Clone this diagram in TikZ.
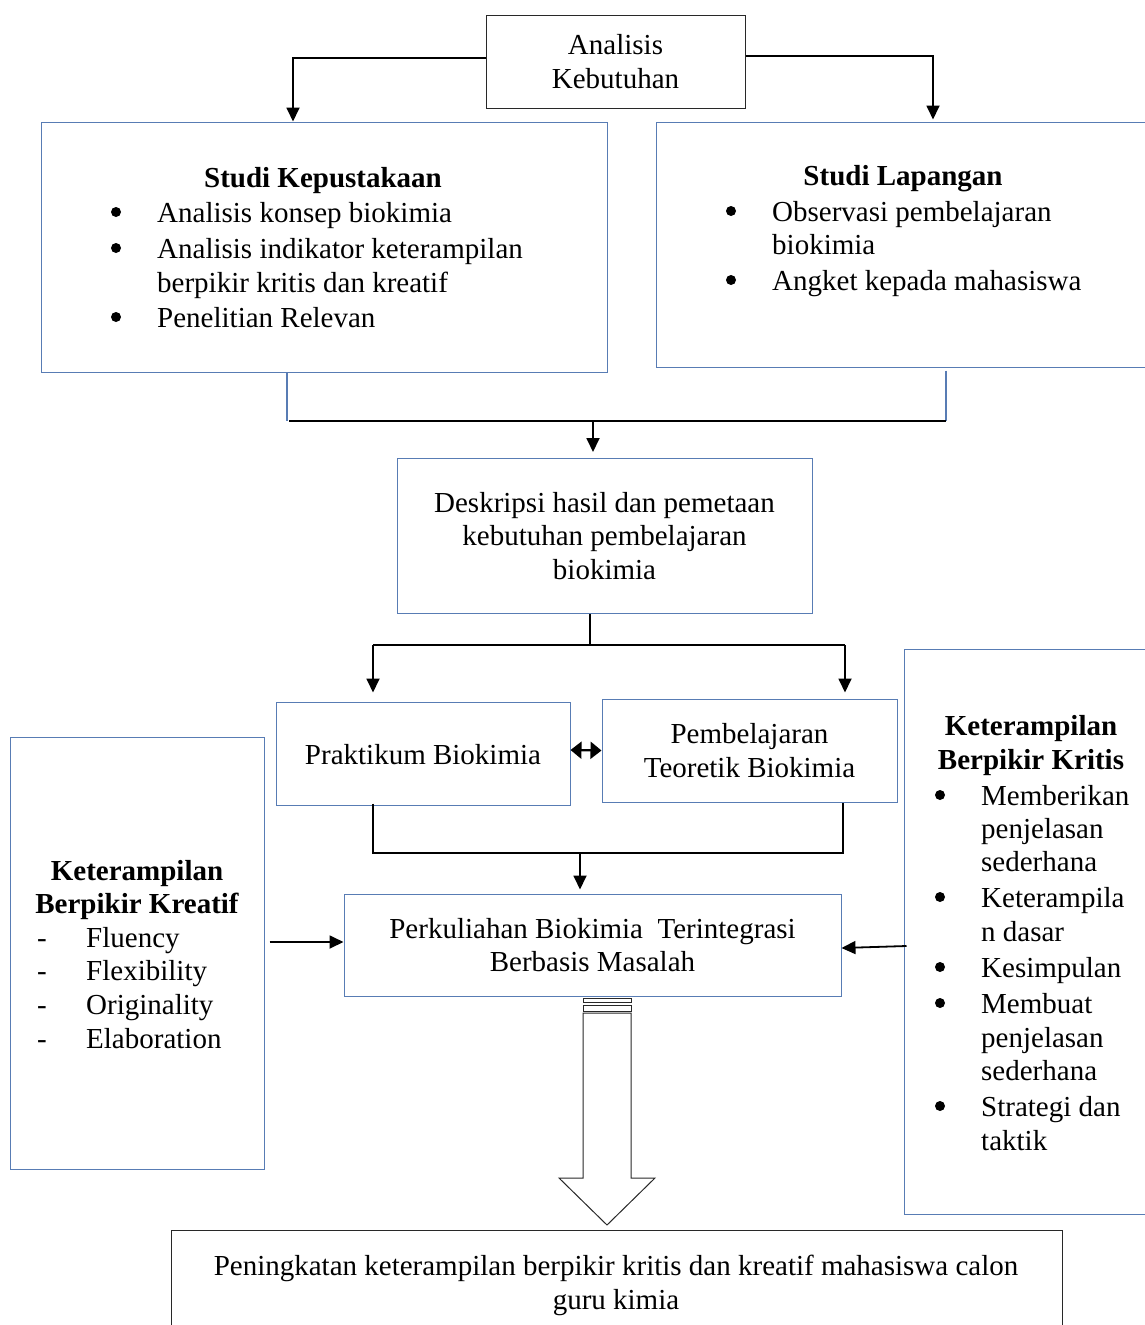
\documentclass[tikz,border=0pt]{standalone}
\usepackage{fontspec}
\setmainfont{Liberation Serif}
\usetikzlibrary{arrows.meta,calc}
\definecolor{boxblue}{RGB}{88,124,180}
\definecolor{boxblack}{RGB}{40,40,40}
\begin{document}
\begin{tikzpicture}[x=1pt,y=-1pt,
  every node/.style={font=\fontsize{29}{33.5}\selectfont},
  bluebox/.style={draw=boxblue,line width=1pt,rectangle,inner sep=0pt},
  blackbox/.style={draw=boxblack,line width=1pt,rectangle,inner sep=0pt},
  txt/.style={anchor=west,inner sep=0pt,text height=20pt,text depth=6.4pt,yshift=-4pt},
  ctr/.style={align=center,inner sep=0pt},
  ttl/.style={align=center,inner sep=0pt,font=\fontsize{29}{33.5}\selectfont\bfseries},
  bul/.style={circle,fill=black,inner sep=0pt,minimum size=10pt},
  conn/.style={line width=1.8pt,black},
  arr/.style={conn,-{Triangle[length=14pt,width=13pt]}},
  bluel/.style={draw=boxblue,line width=1.2pt}
]
\useasboundingbox (0,0) rectangle (1145,1325);

% boxes
\node[blackbox,minimum width=259pt,minimum height=93pt,ctr] (ana) at (615.5,61.5) {Analisis\\Kebutuhan};
\node[bluebox,minimum width=566pt,minimum height=250pt] (kep) at (324,247) {};
\node[bluebox,minimum width=504pt,minimum height=245pt] (lap) at (908,244.5) {};
\node[bluebox,minimum width=415pt,minimum height=155pt,ctr] (desk) at (604.5,536) {Deskripsi hasil dan pemetaan\\kebutuhan pembelajaran\\biokimia};
\node[bluebox,minimum width=294pt,minimum height=103pt] (prak) at (423,753.5) {};
\node[bluebox,minimum width=295pt,minimum height=103pt,ctr] (pemb) at (749.5,750.5) {Pembelajaran\\Teoretik Biokimia};
\node[bluebox,minimum width=497pt,minimum height=102pt,ctr] (perk) at (592.5,945) {Perkuliahan Biokimia\ \ Terintegrasi\\Berbasis Masalah};
\node[bluebox,minimum width=254pt,minimum height=432pt] (kre) at (137,953) {};
\node[bluebox,minimum width=256pt,minimum height=565pt] (kri) at (1032,931.5) {};
\node[blackbox,minimum width=891pt,minimum height=110pt] (hasil) at (616.5,1285) {};

% Studi Kepustakaan
\node[ttl] (kept) at (323,181) {Studi Kepustakaan};
\node[bul] (kb1) at (116,212) {};
\node[bul] (kb2) at (116,248) {};
\node[bul] (kb3) at (116,317) {};
\node[txt] (k1) at (157,212) {Analisis konsep biokimia};
\node[txt] (k2) at (157,248) {Analisis indikator keterampilan};
\node[txt] (k3) at (157,282) {berpikir kritis dan kreatif};
\node[txt] (k4) at (157,317) {Penelitian Relevan};

% Studi Lapangan
\node[ttl] (lapt) at (903,179) {Studi Lapangan};
\node[bul] (lb1) at (731,211) {};
\node[bul] (lb2) at (731,280) {};
\node[txt] (l1) at (772,211) {Observasi pembelajaran};
\node[txt] (l2) at (772,244) {biokimia};
\node[txt] (l3) at (772,280) {Angket kepada mahasiswa};

% Praktikum text
\node[ctr] (prakt) at (423,755) {Praktikum Biokimia};

% Kreatif
\node[ttl] (kret) at (137,890) {Keterampilan\\Berpikir Kreatif};
\node[txt] (d1) at (37,937) {-};
\node[txt] (d2) at (37,970) {-};
\node[txt] (d3) at (37,1004) {-};
\node[txt] (d4) at (37,1038) {-};
\node[txt] (e1) at (86,937) {Fluency};
\node[txt] (e2) at (86,970) {Flexibility};
\node[txt] (e3) at (86,1004) {Originality};
\node[txt] (e4) at (86,1038) {Elaboration};

% Kritis
\node[ttl] (krit) at (1031,745.5) {Keterampilan\\Berpikir Kritis};
\node[bul] (c1) at (940,795) {};
\node[bul] (c2) at (940,897) {};
\node[bul] (c3) at (940,967) {};
\node[bul] (c4) at (940,1003) {};
\node[bul] (c5) at (940,1106) {};
\node[txt] (r1) at (981,795) {Memberikan};
\node[txt] (r2) at (981,828) {penjelasan};
\node[txt] (r3) at (981,861) {sederhana};
\node[txt] (r4) at (981,897) {Keterampila};
\node[txt] (r5) at (981,931) {n dasar};
\node[txt] (r6) at (981,967) {Kesimpulan};
\node[txt] (r7) at (981,1003) {Membuat};
\node[txt] (r8) at (981,1037) {penjelasan};
\node[txt] (r9) at (981,1070) {sederhana};
\node[txt] (r10) at (981,1106) {Strategi dan};
\node[txt] (r11) at (981,1140) {taktik};

% bottom text
\node[ctr] (hasilt) at (616,1285.5) {Peningkatan keterampilan berpikir kritis dan kreatif mahasiswa calon\\guru kimia};

% connectors from Analisis
\draw[arr] ([yshift=3.5pt]ana.west) -| ([xshift=-31pt]kep.north);
\draw[arr] ([yshift=5.5pt]ana.east) -| ([xshift=25pt,yshift=2pt]lap.north);

% join to Deskripsi
\coordinate (jl) at (287,421);
\coordinate (jr) at (946,421);
\coordinate (jm) at (593,421);
\draw[bluel] (kep.south -| jl) -- (jl);
\draw[bluel] ([yshift=-3pt]lap.south -| jr) -- (jr);
\draw[conn] ([xshift=2pt]jl) -- (jr);
\draw[arr] (jm) -- ([yshift=6pt]jm |- desk.north);

% split to Praktikum / Pembelajaran
\coordinate (sm) at (590,645);
\coordinate (sl) at (373,645);
\coordinate (sr) at (845,645);
\draw[conn] (desk.south -| sm) -- (sm);
\draw[conn] (sl) -- (sr);
\draw[arr] (sl) -- ([yshift=9pt]sl |- prak.north);
\draw[arr] (sr) -- ([yshift=6pt]sr |- pemb.north);

% double arrow
\draw[line width=2.2pt,{Triangle[length=11pt,width=17pt]}-{Triangle[length=11pt,width=17pt]}] ([yshift=3.5pt]prak.east) -- (pemb.west);

% join to Perkuliahan
\coordinate (bl) at (373,853);
\coordinate (br) at (843,853);
\coordinate (bm) at (580,853);
\draw[conn] ([yshift=2pt]bl |- prak.south) -- (bl) -- (br) -- (br |- pemb.south);
\draw[arr] (bm) -- ([yshift=4pt]bm |- perk.north);

% side arrows
\draw[arr] ([xshift=5pt,yshift=11pt]kre.east) -- ([yshift=3pt]perk.west);
\draw[arr] ([xshift=3pt,yshift=-14.5pt]kri.west) -- ([yshift=-3pt]perk.east);

% block arrow
\draw[boxblack,line width=1pt] (583,998) rectangle (631,1002);
\draw[boxblack,line width=1pt] (583,1005) rectangle (631,1011);
\draw[boxblack,line width=1pt,line join=miter] (583,1013) -- (583,1178) -- (559,1178) -- (607,1225) -- (655,1178) -- (631,1178) -- (631,1013) -- cycle;
\end{tikzpicture}
\end{document}
